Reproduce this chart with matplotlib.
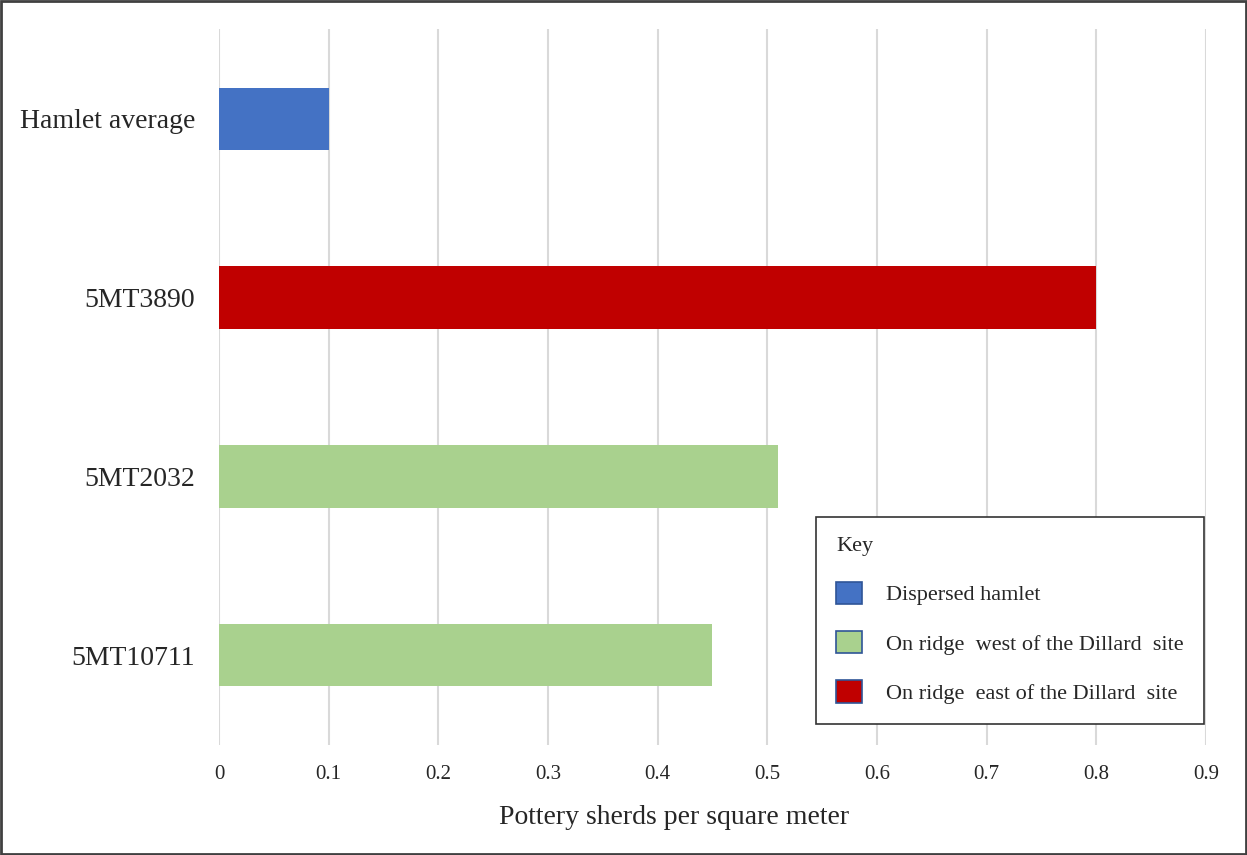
import matplotlib
matplotlib.use("Agg")
import matplotlib.pyplot as plt
from matplotlib.patches import Patch

# Pottery sherd density by site
sites = ["5MT10711", "5MT2032", "5MT3890", "Hamlet average"]
density = [0.45, 0.51, 0.80, 0.10]
groups = ["west", "west", "east", "hamlet"]

group_labels = {
    "hamlet": "Dispersed hamlet",
    "west": "On ridge  west of the Dillard  site",
    "east": "On ridge  east of the Dillard  site",
}
group_colors = {"hamlet": "#4472C4", "west": "#A9D18E", "east": "#C00000"}
legend_order = ["hamlet", "west", "east"]

xticks = [0, 0.1, 0.2, 0.3, 0.4, 0.5, 0.6, 0.7, 0.8, 0.9]
xtick_labels = ["0", "0.1", "0.2", "0.3", "0.4", "0.5", "0.6", "0.7", "0.8", "0.9"]

plt.rcParams["font.family"] = ["Liberation Serif", "DejaVu Serif"]

fig = plt.figure(figsize=(12.47, 8.55), dpi=100)
ax = fig.add_axes([0.1756, 0.1292, 0.7915, 0.8363])

ypos = list(range(len(sites)))
ax.barh(ypos, density, height=0.35,
        color=[group_colors[g] for g in groups], zorder=3)

ax.set_xlim(0, 0.9)
ax.set_ylim(-0.5, 3.5)
ax.set_xticks(xticks)
ax.set_xticklabels(xtick_labels, fontsize=15)
ax.set_yticks(ypos)
ax.set_yticklabels(sites, fontsize=20)
ax.tick_params(axis="x", length=0, pad=15, colors="#262626")
ax.tick_params(axis="y", length=0, pad=17, colors="#262626")
ax.xaxis.grid(True, color="#D9D9D9", linewidth=1.5, zorder=0)
ax.set_axisbelow(True)
for s in ax.spines.values():
    s.set_visible(False)

ax.set_xlabel("Pottery sherds per square meter", fontsize=20,
              color="#262626")
ax.xaxis.set_label_coords(0.461, -0.084)

handles = [Patch(facecolor=group_colors[g], edgecolor="#2F5597",
                 linewidth=1.2, label=group_labels[g]) for g in legend_order]
leg = ax.legend(handles=handles, title="Key", loc="upper left",
                bbox_to_anchor=(0.6049, 0.318), borderaxespad=0,
                fontsize=16, title_fontsize=16, alignment="left",
                frameon=True, fancybox=False, edgecolor="#333333",
                handlelength=1.17, handleheight=1.17, handletextpad=1.1,
                labelspacing=1.15, borderpad=0.9, framealpha=1)
leg.get_frame().set_linewidth(1.2)
for t in leg.get_texts():
    t.set_color("#262626")
leg.get_title().set_color("#262626")

# Outer border
fig.patches.append(plt.Rectangle((0.001, 0.001), 0.998, 0.998,
                                 transform=fig.transFigure, fill=False,
                                 edgecolor="#404040", linewidth=2))

fig.savefig("out.png", dpi=100)
